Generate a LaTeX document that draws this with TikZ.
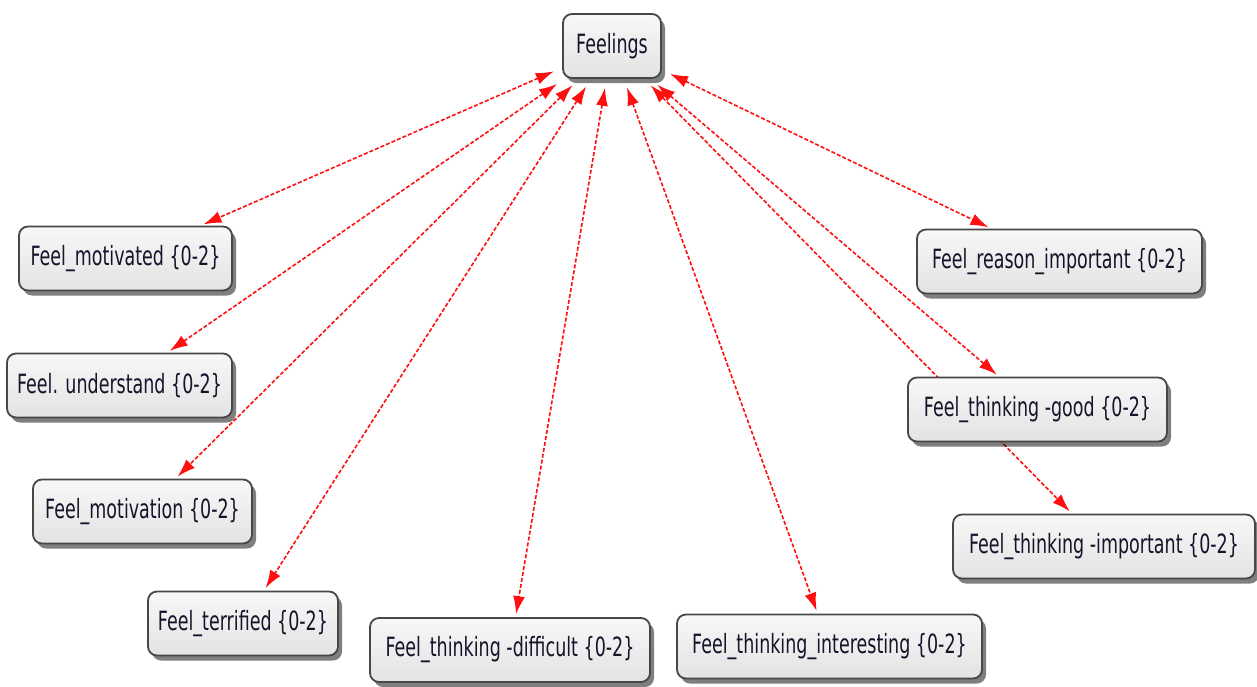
\documentclass[tikz,border=0pt]{standalone}
\usepackage{fontspec}
\setmainfont{DejaVu Sans}[FakeStretch=0.66]
\usetikzlibrary{arrows.meta,shadows,backgrounds}
\definecolor{txt}{HTML}{14142A}
\definecolor{edge}{HTML}{FF1010}
\begin{document}
\begin{tikzpicture}[x=1pt,y=-1pt,
  box/.style={draw=black!72, line width=1.8pt, rounded corners=9pt,
    top color=white!97!black, bottom color=black!11,
    drop shadow={shadow xshift=4pt, shadow yshift=-5pt, fill=black, opacity=0.5},
    minimum height=64pt, inner sep=0pt,
    font=\fontsize{26.5}{30}\selectfont, text=txt},
  link/.style={edge, line width=1.6pt, dash pattern=on 4pt off 2pt,
    {Latex[length=18pt,width=12pt]}-{Latex[length=18pt,width=12pt]},
    shorten <=9pt, shorten >=3pt}]
\useasboundingbox (0,0) rectangle (1257,686);
\node[box, minimum width=98pt]  (F)  at (612,46)      {Feelings};
\node[box, minimum width=213pt] (m1) at (125.5,258.5) {Feel\_motivated \{0-2\}};
\node[box, minimum width=225pt] (u)  at (119.5,385.5) {Feel. understand \{0-2\}};
\node[box, minimum width=219pt] (m2) at (142.5,511.5) {Feel\_motivation \{0-2\}};
\node[box, minimum width=190pt] (t)  at (243,623.5)   {Feel\_terrified \{0-2\}};
\node[box, minimum width=280pt] (d)  at (510,650)     {Feel\_thinking -difficult \{0-2\}};
\node[box, minimum width=305pt] (i)  at (829.5,646.5) {Feel\_thinking\_interesting \{0-2\}};
\node[box, minimum width=285pt] (r)  at (1059.5,261.5) {Feel\_reason\_important \{0-2\}};
\node[box, minimum width=259pt] (g)  at (1037.5,409.5) {Feel\_thinking -good \{0-2\}};
\node[box, minimum width=302pt] (im) at (1104,546.5)  {Feel\_thinking -important \{0-2\}};
\begin{pgfonlayer}{background}
\foreach \n in {m1,u,m2,t,d,i,r,g,im} \draw[link] (F) -- (\n);
\end{pgfonlayer}
\end{tikzpicture}
\end{document}
